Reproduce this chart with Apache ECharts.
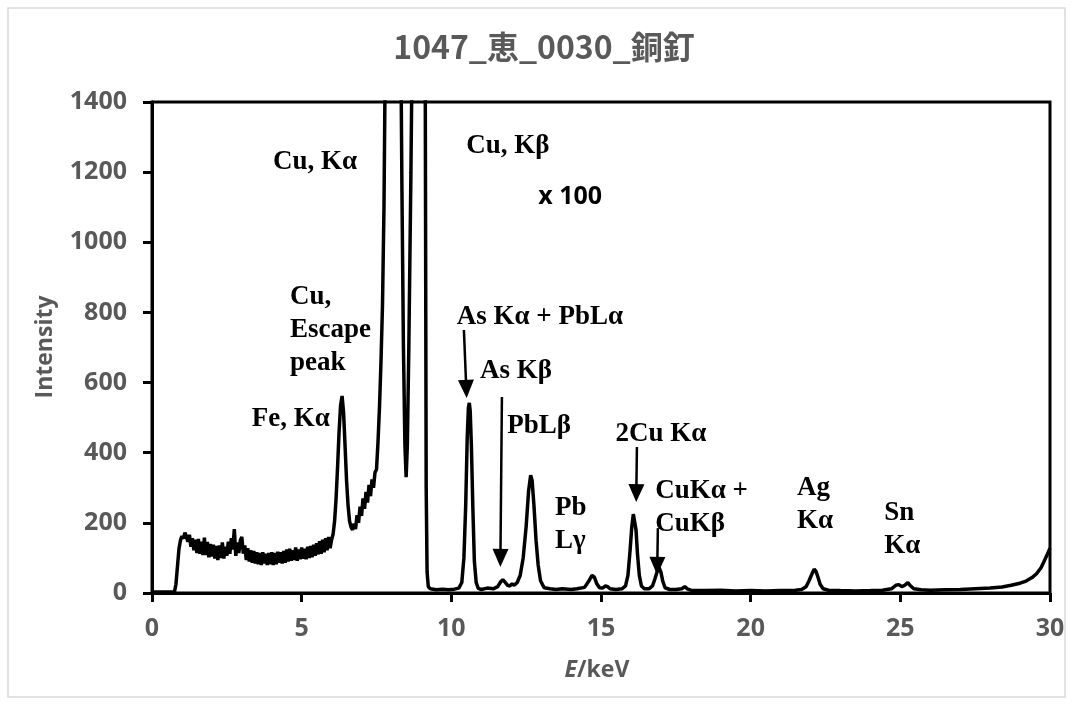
<!DOCTYPE html>
<html>
<head>
<meta charset="utf-8">
<script src="https://cdn.jsdelivr.net/npm/echarts@6/dist/echarts.min.js"></script>
<style>html,body{margin:0;padding:0;background:#fff;}#c{width:1073px;height:704px;}</style>
</head>
<body>
<div id="c"></div>
<script>
const energy = [0,0.5,0.75,0.8,0.85,0.9,0.95,1.0,1.05,1.1,1.15,1.2,1.25,1.3,1.35,1.4,1.45,1.5,1.55,1.6,1.65,1.7,1.75,1.8,1.85,1.9,1.95,2.0,2.05,2.1,2.15,2.2,2.25,2.3,2.35,2.4,2.45,2.5,2.55,2.6,2.65,2.7,2.75,2.8,2.85,2.9,2.95,3.0,3.05,3.1,3.15,3.2,3.25,3.3,3.35,3.4,3.45,3.5,3.55,3.6,3.65,3.7,3.75,3.8,3.85,3.9,3.95,4.0,4.05,4.1,4.15,4.2,4.25,4.3,4.35,4.4,4.45,4.5,4.55,4.6,4.65,4.7,4.75,4.8,4.85,4.9,4.95,5.0,5.05,5.1,5.15,5.2,5.25,5.3,5.35,5.4,5.45,5.5,5.55,5.6,5.65,5.7,5.75,5.8,5.85,5.9,5.95,6.0,6.05,6.1,6.15,6.2,6.25,6.3,6.35,6.4,6.45,6.5,6.55,6.6,6.65,6.7,6.75,6.8,6.85,6.9,6.95,7.0,7.05,7.1,7.15,7.2,7.25,7.3,7.35,7.4,7.45,7.5,7.55,7.6,7.65,7.7,7.75,7.8,7.9,8.05,8.2,8.3,8.35,8.4,8.45,8.49,8.53,8.58,8.65,8.72,8.9,9.08,9.13,9.16,9.19,9.23,9.3,9.5,9.7,9.9,10.1,10.25,10.35,10.42,10.48,10.53,10.57,10.6,10.63,10.67,10.72,10.77,10.83,10.9,11.0,11.2,11.4,11.55,11.65,11.72,11.8,11.88,11.95,12.03,12.1,12.2,12.3,12.4,12.5,12.58,12.65,12.7,12.76,12.83,12.9,12.98,13.1,13.3,13.5,13.7,14.0,14.2,14.45,14.6,14.7,14.78,14.85,14.95,15.05,15.15,15.22,15.3,15.5,15.7,15.82,15.9,15.97,16.03,16.08,16.12,16.17,16.22,16.28,16.35,16.45,16.6,16.72,16.8,16.88,16.94,17.0,17.06,17.14,17.3,17.5,17.7,17.8,17.88,18.0,18.5,19.0,19.5,20.0,20.5,21.0,21.5,21.7,21.85,21.95,22.05,22.12,22.18,22.25,22.32,22.42,22.6,23.0,23.5,24.0,24.4,24.7,24.85,24.95,25.05,25.15,25.25,25.32,25.45,25.7,26.0,26.5,27.0,27.5,28.0,28.4,28.7,29.0,29.2,29.4,29.55,29.7,29.8,29.9,30.0];
const intensity = [3,3,3,25,75,125,150,162,155,172,160,146,166,132,156,122,152,114,154,112,146,108,158,108,146,102,140,104,138,98,134,94,136,100,144,98,132,106,146,112,156,124,182,106,144,114,150,160,112,136,94,128,90,122,86,120,84,116,82,114,80,116,84,112,80,114,82,116,80,114,82,118,86,116,84,120,86,124,90,126,92,122,94,130,92,124,96,130,98,126,96,132,100,134,102,138,106,142,110,148,112,152,116,156,122,160,128,152,168,205,270,360,460,535,562,515,420,320,250,205,188,180,198,182,222,200,246,220,270,240,288,258,308,276,324,300,344,352,430,530,660,820,1100,1600,4000,20000,5000,1700,1150,700,420,330,420,700,1200,1800,8000,2500,1400,300,60,18,12,9,11,9,11,14,30,100,250,440,528,542,520,420,240,90,30,13,10,14,12,18,32,38,30,22,20,26,22,30,50,100,190,290,336,320,250,150,80,35,15,12,10,12,10,12,16,35,50,45,28,15,14,20,18,12,10,12,20,50,120,190,225,228,180,110,50,20,12,12,20,40,62,72,60,35,15,10,10,12,18,12,8,7,8,6,7,6,7,8,10,18,35,55,68,62,45,25,12,8,7,6,7,8,12,22,24,18,22,30,22,12,9,8,9,10,12,14,17,22,28,34,44,55,72,90,108,128];
const xTicks = [0,5,10,15,20,25,30];
const yTicks = [0,200,400,600,800,1000,1200,1400];
const titleText = '1047_恵_0030_銅釘';
// annotation texts with anchor in data space [E, intensity]
const notes = [
  {t:'Cu, Kα', at:[5.45,1229], align:'center'},
  {t:'Cu, Kβ', at:[11.89,1275], align:'center'},
  {t:'Cu,\nEscape\npeak', at:[4.61,750], align:'left'},
  {t:'Fe, Kα', at:[4.64,496], align:'center'},
  {t:'As Kα + PbLα', at:[12.96,787], align:'center'},
  {t:'As Kβ', at:[12.16,633], align:'center'},
  {t:'PbLβ', at:[12.93,476], align:'center'},
  {t:'2Cu Kα', at:[17.0,453], align:'center'},
  {t:'CuKα +\nCuKβ', at:[16.81,245], align:'left'},
  {t:'Pb\nLγ', at:[13.46,194], align:'left'},
  {t:'Ag\nKα', at:[21.55,251], align:'left'},
  {t:'Sn\nKα', at:[24.46,180], align:'left'}
];
const scaleNote = {t:'x 100', at:[13.97,1129]};
// arrows [from, to] in data space
const arrows = [
  [[10.42,750],[10.5,582]],
  [[11.69,559],[11.64,100]],
  [[16.2,416],[16.18,285]],
  [[16.9,185],[16.88,77]]
];

const chart = echarts.init(document.getElementById('c'));
const gray = '#595959';
const tickFont = {color:gray,fontSize:25,fontWeight:'bold',fontFamily:'"Open Sans"'};
chart.setOption({
  animation:false,
  grid:{left:152,right:23,top:102,bottom:111,show:true,borderColor:'#000',borderWidth:3},
  xAxis:{type:'value',min:0,max:30,interval:5,
    axisLine:{show:true,lineStyle:{color:'#000',width:3}},
    axisTick:{show:true,length:9,lineStyle:{color:'#000',width:3}},
    axisLabel:Object.assign({margin:23,formatter:v=>String(v)},tickFont),
    splitLine:{show:false}},
  yAxis:{type:'value',min:0,max:1400,interval:200,
    axisLine:{show:true,lineStyle:{color:'#000',width:3}},
    axisTick:{show:true,length:9,lineStyle:{color:'#000',width:3}},
    axisLabel:Object.assign({margin:25,formatter:v=>String(v)},tickFont),
    splitLine:{show:false}},
  series:[{type:'line',data:energy.map((e,i)=>[e,intensity[i]]),showSymbol:false,
    lineStyle:{color:'#000',width:3.5},clip:true,z:3,
    markLine:{silent:true,symbol:['none','triangle'],symbolSize:[16,18],
      label:{show:false},lineStyle:{color:'#000',width:2.5,type:'solid'},
      emphasis:{disabled:true},
      data:arrows.map(a=>[{coord:a[0]},{coord:a[1]}])}
  }]
});

function px(p){return chart.convertToPixel({gridIndex:0},p);}
const g = [];
g.push({type:'rect',shape:{x:8,y:8,width:1057,height:689},style:{fill:'none',stroke:'#d9d9d9',lineWidth:1.5},silent:true});
g.push({type:'text',x:544,y:47,style:{text:titleText,fill:gray,font:'bold 32px "Noto Sans CJK JP"',align:'center',verticalAlign:'middle'}});
g.push({type:'text',x:45,y:347,rotation:Math.PI/2,style:{text:'Intensity',fill:gray,font:'bold 23px "Open Sans"',align:'center',verticalAlign:'middle'}});
g.push({type:'text',x:597,y:670,style:{text:'{i|E}/keV',fill:gray,font:'bold 23px "Open Sans"',align:'center',verticalAlign:'middle',
  rich:{i:{fontStyle:'italic',fontWeight:'bold',fontSize:23,fontFamily:'Open Sans',fill:gray}}}});
notes.forEach(n=>{
  const p = px(n.at);
  g.push({type:'text',x:p[0],y:p[1],z:10,style:{text:n.t,fill:'#000',font:'bold 27px "Liberation Serif"',align:n.align,verticalAlign:'middle',lineHeight:33}});
});
{
  const p = px(scaleNote.at);
  g.push({type:'text',x:p[0],y:p[1],z:10,style:{text:scaleNote.t,fill:'#000',font:'bold 25px "Open Sans"',align:'center',verticalAlign:'middle'}});
}
chart.setOption({graphic:g});
</script>
</body>
</html>
